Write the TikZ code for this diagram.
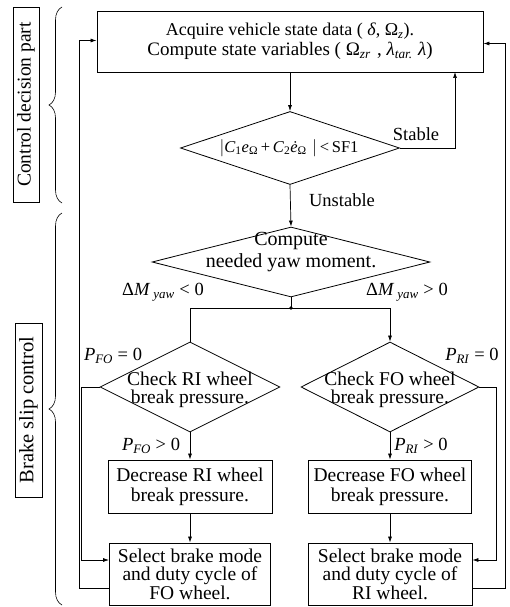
\documentclass[tikz,border=0pt]{standalone}
\usepackage{fontspec}
\setmainfont{Liberation Serif}
\usetikzlibrary{arrows.meta,shapes.geometric,decorations.pathreplacing,calc}
\begin{document}
\begin{tikzpicture}[x=1pt,y=-1pt,
  every node/.style={font=\fontsize{19.5}{20}\selectfont},
  box/.style={draw, line width=0.9pt, inner sep=0pt, align=center},
  dia/.style={draw, diamond, line width=0.8pt, inner sep=0pt},
  txt/.style={inner sep=0pt, align=center},
  lbl/.style={inner sep=0pt, font=\fontsize{18.5}{20}\selectfont},
  conn/.style={line width=0.7pt},
  arr/.style={conn, -{Latex[length=6pt,width=4pt]}},
  side/.style={draw, line width=0.8pt, rotate=90, inner sep=0pt},
  brc/.style={decorate, decoration={brace, amplitude=13pt}, line width=0.6pt}]
\useasboundingbox (0,0) rectangle (509,607);

% side labels and braces
\node[side, minimum width=195pt, minimum height=26pt, font=\fontsize{19.5}{22}\selectfont] (lab1) at (26,104.5) {Control decision part};
\node[side, minimum width=174pt, minimum height=27pt, font=\fontsize{20.5}{22}\selectfont] (lab2) at (28.5,410) {Brake slip control};
\draw[brc] (62,203) -- (62,7);
\draw[brc] (62,605) -- (62,213);

% top box
\node[box, minimum width=386pt, minimum height=61pt] (top) at (290,41.5)
  {{\fontsize{18}{22}\selectfont Acquire vehicle state data ( \textit{δ}, Ω\textsubscript{\textit{z}}).}\\
   {\fontsize{19}{22}\selectfont Compute state variables ( Ω\textsubscript{\textit{zr}}\,\,, \textit{λ}\textsubscript{\textit{tar.}}\;\textit{λ})}};

% diamond 1
\node[dia, minimum width=219pt, minimum height=73pt] (d1) at (290,148) {};
\node[txt, font=\fontsize{16.5}{20}\selectfont] (d1t) at (289,148)
  {$\bigl|$\textit{C}\textsubscript{1}\textit{e}\textsubscript{Ω}\,+\,\textit{C}\textsubscript{2}\textit{\.e}\textsubscript{Ω}\,\,$\bigr|$\,<\,SF1};
\node[lbl] (stable) at (416,134) {Stable};
\node[lbl] (unstable) at (342,200) {Unstable};
\coordinate (stab) at (455,72);

% diamond 2
\node[dia, minimum width=278pt, minimum height=70pt] (d2) at (291,262) {};
\node[txt, font=\fontsize{20}{22}\selectfont] (d2t) at (291,252) {Compute\\needed yaw moment.};
\coordinate (jn) at (291,308);
\node[lbl] (dm1) at (163,292) {Δ\textit{M}\,\textsubscript{\textit{yaw}} < 0};
\node[lbl] (dm2) at (407,292) {Δ\textit{M}\,\textsubscript{\textit{yaw}} > 0};

% diamonds 3 and 4
\node[dia, minimum width=180pt, minimum height=90pt] (d3) at (190,387) {};
\node[txt, font=\fontsize{19.5}{18}\selectfont] (d3t) at (190,390) {Check RI wheel\\break pressure.};
\node[dia, minimum width=178pt, minimum height=90pt] (d4) at (390,387) {};
\node[txt, font=\fontsize{19.5}{18}\selectfont] (d4t) at (390,390) {Check FO wheel\\break pressure.};
\node[lbl] (pfo0) at (113,356) {\textit{P}\textsubscript{\textit{FO}} = 0};
\node[lbl] (pri0) at (472,356) {\textit{P}\textsubscript{\textit{RI}} = 0};
\node[lbl] (pfo1) at (151,446) {\textit{P}\textsubscript{\textit{FO}} > 0};
\node[lbl] (pri1) at (421,446) {\textit{P}\textsubscript{\textit{RI}} > 0};

% decrease boxes
\node[box, minimum width=164pt, minimum height=53pt, font=\fontsize{19.5}{20}\selectfont] (dec1) at (190,486.5) {Decrease RI wheel\\break pressure.};
\node[box, minimum width=163pt, minimum height=53pt, font=\fontsize{19.5}{20}\selectfont] (dec2) at (390,486.5) {Decrease FO wheel\\break pressure.};

% select boxes
\node[box, minimum width=161pt, minimum height=62pt, font=\fontsize{19.5}{18.5}\selectfont] (s1) at (190,574) {Select brake mode\\and duty cycle of\\FO wheel.};
\node[box, minimum width=164pt, minimum height=62pt, font=\fontsize{19.5}{18.5}\selectfont] (s2) at (390,574) {Select brake mode\\and duty cycle of\\RI wheel.};

% connectors
\draw[arr] (top.south -| d1.north) -- (d1.north);
\draw[arr] (d1.east) -| (stab);
\draw[arr] (d1.south) -- (d2.north);
\draw[conn] (d2.south) -- (jn);
\fill (jn) circle (1.8pt);
\draw[conn] (jn) -| (d3.north);
\draw[arr] (jn) -| (d4.north);
\draw[arr] (d3.south) -- (dec1.north);
\draw[arr] (d4.south) -- (dec2.north);
\draw[arr] (dec1.south) -- (s1.north);
\draw[arr] (dec2.south) -- (s2.north);
\draw[arr] (d3.west) -- ++(-18,0) |- ([yshift=14pt]s1.west);
\draw[arr] (d4.east) -- ++(17,0) |- ([yshift=14pt]s2.east);
\draw[arr] ([yshift=-14pt]s1.west) -- ++(-30,0) |- ([yshift=1pt]top.west);
\draw[arr] ([yshift=-14pt]s2.east) -- ++(33,0) |- ([yshift=-2pt]top.east);
\end{tikzpicture}
\end{document}
